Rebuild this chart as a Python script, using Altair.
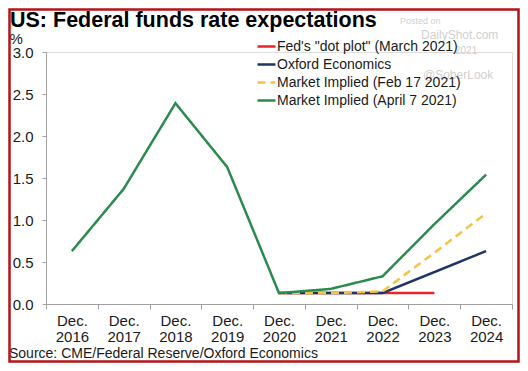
import altair as alt
import pandas as pd

years = ["2016", "2017", "2018", "2019", "2020", "2021", "2022", "2023", "2024"]
series_names = [
    "Fed's \"dot plot\" (March 2021)",
    "Oxford Economics",
    "Market Implied (Feb 17 2021)",
    "Market Implied (April 7 2021)",
]
fed_dot = [None, None, None, None, 0.13, 0.13, 0.13, 0.13, None]
oxford = [None, None, None, None, 0.13, 0.13, 0.13, 0.38, 0.63]
market_feb = [None, None, None, None, 0.13, 0.13, 0.15, 0.61, 1.08]
market_apr = [0.63, 1.37, 2.39, 1.63, 0.13, 0.18, 0.33, 0.95, 1.54]
colors = ["#e8262a", "#1f3566", "#f6c343", "#2b8a4e"]
dashes = [[1, 0], [1, 0], [8, 5], [1, 0]]

title_text = "US: Federal funds rate expectations"
source_text = "Source: CME/Federal Reserve/Oxford Economics"
watermarks = ["Posted on", "DailyShot.com", "2021", "@SoberLook"]

rows = []
for name, vals in zip(series_names, [fed_dot, oxford, market_feb, market_apr]):
    for y, v in zip(years, vals):
        if v is not None:
            rows.append({"year": y, "rate": v, "series": name})
df = pd.DataFrame(rows)

FONT = "Liberation Sans"
W, H = 466, 252
PL, PT, PR = 38, 44, 8
PB = 355 - PT - H
LEFT, TOP = 8 + PL, 8 + PT  # page position of plot origin

legend_cfg = dict(title=None, orient="none", legendX=256 - LEFT, legendY=47 - 11 - TOP,
                  symbolType="stroke", symbolSize=324, symbolStrokeWidth=2.5,
                  labelFontSize=14, labelFont=FONT, labelColor="#1a1a1a",
                  labelOffset=0, rowPadding=0, labelLimit=0)

lines = alt.Chart(df).mark_line(strokeWidth=2.5).encode(
    x=alt.X("year:N", sort=years, bandPosition=0.5,
            scale=alt.Scale(type="band", domain=years, paddingInner=0, paddingOuter=0),
            axis=alt.Axis(title=None,
                          labelExpr="datum.label ? ['Dec.', datum.label] : ''",
                          labelAngle=0, labelFlush=False, labelOverlap=False,
                          tickBand="extent", tickSize=5, labelPadding=4,
                          labelFontSize=15, labelLineHeight=16, labelColor="#1a1a1a",
                          labelFont=FONT, domainColor="#a0a0a0", tickColor="#a0a0a0",
                          grid=False)),
    y=alt.Y("rate:Q", scale=alt.Scale(domain=[0, 3]),
            axis=alt.Axis(title="%", titleAngle=0, titleAlign="left", titleBaseline="alphabetic",
                          titleX=-37, titleY=43 - TOP, titleFont=FONT, titleFontSize=15,
                          titleFontWeight="normal", titleColor="#1a1a1a",
                          values=[0, 0.5, 1, 1.5, 2, 2.5, 3], format=".1f",
                          tickSize=4, labelPadding=9, labelFontSize=15, labelFont=FONT,
                          labelColor="#1a1a1a", domainColor="#a0a0a0", tickColor="#a0a0a0",
                          grid=False)),
    color=alt.Color("series:N", sort=series_names,
                    scale=alt.Scale(domain=series_names, range=colors),
                    legend=alt.Legend(**legend_cfg)),
    strokeDash=alt.StrokeDash("series:N", sort=series_names,
                              scale=alt.Scale(domain=series_names, range=dashes),
                              legend=alt.Legend(**legend_cfg)),
    order=alt.Order("series:N"),
)

title = alt.Chart(pd.DataFrame({"t": [title_text]})).mark_text(
    align="left", baseline="alphabetic", font=FONT, fontSize=21.5, fontWeight="bold", color="#000000"
).encode(text="t:N", x=alt.value(10 - LEFT), y=alt.value(27 - TOP))

source = alt.Chart(pd.DataFrame({"t": [source_text]})).mark_text(
    align="left", baseline="alphabetic", font=FONT, fontSize=14, color="#1a1a1a"
).encode(text="t:N", x=alt.value(9 - LEFT), y=alt.value(358 - TOP))

wm_pos = [(400, 24, 9), (421, 39, 12), (455, 54, 10), (423, 79, 12)]
wm_marks = []
for txt, (px, py, fs) in zip(watermarks, wm_pos):
    wm_marks.append(
        alt.Chart(pd.DataFrame({"t": [txt]})).mark_text(
            align="left", baseline="alphabetic", font=FONT, fontSize=fs, color="#cfcfcf"
        ).encode(text="t:N", x=alt.value(px - LEFT), y=alt.value(py - TOP))
    )

border = alt.Chart(pd.DataFrame({"a": [0]})).mark_rect(
    fill=None, stroke="#b3141b", strokeWidth=2.5
).encode(x=alt.value(-PL + 1.5), x2=alt.value(W + PR - 1.5),
         y=alt.value(-PT + 1.5), y2=alt.value(H + PB - 1.5))

chart = alt.layer(*wm_marks, lines, title, source, border).properties(
    width=W, height=H,
    autosize=alt.AutoSizeParams(type="none"),
    padding={"left": PL, "top": PT, "right": PR, "bottom": PB},
).configure_view(stroke=None).configure(background="white")

chart.save("out.html", embed_options={"renderer": "svg", "actions": False})
